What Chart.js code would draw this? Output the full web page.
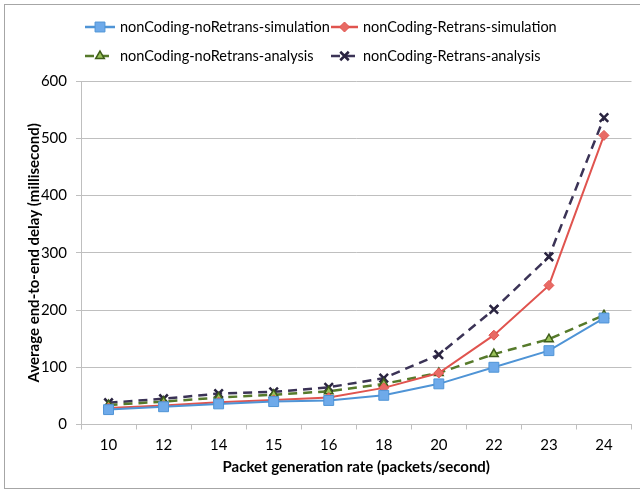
<!DOCTYPE html>
<html>
<head>
<meta charset="utf-8">
<script src="https://cdn.jsdelivr.net/npm/chart.js@4.4.1/dist/chart.umd.min.js"></script>
<style>
  html, body { margin: 0; padding: 0; background: #fff; }
  #wrap { width: 640px; height: 491px; position: relative; }
</style>
</head>
<body>
<div id="wrap"><canvas id="myChart" width="640" height="491"></canvas></div>
<script>
const labels = ["10", "12", "14", "15", "16", "18", "20", "22", "23", "24"];

const noRetransSim = [26, 31, 36, 40, 42, 51, 71, 100, 129, 186];
const retransSim = [29, 33, 39, 43, 47, 64, 90, 156, 243, 505];
const noRetransAna = [34, 40, 47, 52, 58, 71, 90, 123, 149, 191];
const retransAna = [38, 45, 54, 57, 65, 81, 122, 201, 293, 536];

const names = [
  "nonCoding-noRetrans-simulation",
  "nonCoding-Retrans-simulation",
  "nonCoding-noRetrans-analysis",
  "nonCoding-Retrans-analysis",
];

const FONT = "Lato, 'Open Sans', sans-serif";

//frame around the whole picture
const framePlugin = {
  id: "frame",
  beforeDraw(chart) {
    const c = chart.ctx;
    c.save();
    c.strokeStyle = "#a6a6a6";
    c.lineWidth = 1;
    c.strokeRect(4.5, 4.5, 700, 484);
    c.restore();
  },
};

//two column legend at the top
const legendPlugin = {
  id: "gridLegend",
  afterDraw(chart) {
    const c = chart.ctx;
    const cols = [85, 331];
    const textX = [120, 363];
    const rows = [27, 56];
    chart.data.datasets.forEach((ds, i) => {
      const col = i % 2;
      const x = cols[col];
      const y = rows[Math.floor(i / 2)];
      const len = textX[col] - x - 5;
      c.save();
      c.strokeStyle = ds.borderColor;
      c.lineWidth = 2.5;
      c.setLineDash(ds.borderDash || []);
      c.beginPath();
      c.moveTo(x, y);
      c.lineTo(x + len, y);
      c.stroke();
      c.setLineDash([]);
      c.fillStyle = ds.pointBackgroundColor;
      c.strokeStyle = ds.pointBorderColor;
      c.lineWidth = ds.pointBorderWidth;
      Chart.helpers.drawPoint(c, {
        pointStyle: ds.pointStyle,
        radius: ds.pointRadius,
        borderWidth: ds.pointBorderWidth,
        rotation: 0,
      }, x + len / 2, y);
      c.fillStyle = "#000";
      c.font = "14.5px " + FONT;
      c.textBaseline = "middle";
      c.fillText(ds.label, textX[col], y);
      c.restore();
    });
  },
};

const data = {
  labels,
  datasets: [
    {
      label: names[0],
      data: noRetransSim,
      borderColor: "#4f94d6",
      borderWidth: 2,
      pointStyle: "rect",
      pointRadius: 7,
      pointBackgroundColor: "#6eaaea",
      pointBorderColor: "#4f94d6",
      pointBorderWidth: 1,
      order: 1,
    },
    {
      label: names[1],
      data: retransSim,
      borderColor: "#e0544f",
      borderWidth: 2,
      pointStyle: "rectRot",
      pointRadius: 5,
      pointBackgroundColor: "#e86a64",
      pointBorderColor: "#e0544f",
      pointBorderWidth: 1,
      order: 2,
    },
    {
      label: names[2],
      data: noRetransAna,
      borderColor: "#567a2b",
      borderWidth: 2.5,
      borderDash: [9, 6],
      pointStyle: "triangle",
      pointRadius: 5,
      pointBackgroundColor: "#9bc35a",
      pointBorderColor: "#3f5e1a",
      pointBorderWidth: 1.5,
      order: 3,
    },
    {
      label: names[3],
      data: retransAna,
      borderColor: "#3b3356",
      borderWidth: 2.5,
      borderDash: [9, 6],
      pointStyle: "crossRot",
      pointRadius: 6,
      pointBackgroundColor: "#3b3356",
      pointBorderColor: "#2a2440",
      pointBorderWidth: 2.5,
      order: 4,
    },
  ],
};

const config = {
  type: "line",
  data: data,
  plugins: [framePlugin, legendPlugin],
  options: {
    responsive: false,
    animation: false,
    layout: { padding: { top: 81, left: 0, right: 5, bottom: 0 } },
    elements: { line: { tension: 0 } },
    scales: {
      x: {
        offset: true,
        afterFit: (scale) => { scale.height = 66.5; },
        grid: {
          offset: true,
          drawOnChartArea: false,
          drawTicks: true,
          tickLength: 5,
          color: "#bfbfbf",
        },
        border: { color: "#bfbfbf", width: 1 },
        ticks: {
          color: "#000",
          padding: 7,
          font: { family: FONT, size: 15 },
        },
        title: {
          display: true,
          text: "Packet generation rate (packets/second)",
          color: "#000",
          padding: { top: 0, bottom: 15 },
          font: { family: FONT, size: 15, weight: "bold" },
        },
      },
      y: {
        min: 0,
        max: 600,
        afterFit: (scale) => { scale.width = 81; },
        grid: {
          color: "#bfbfbf",
          drawTicks: true,
          tickLength: 5,
        },
        border: { color: "#bfbfbf", width: 1 },
        ticks: {
          stepSize: 100,
          color: "#000",
          padding: 9,
          font: { family: FONT, size: 15 },
        },
        title: {
          display: true,
          text: "Average end-to-end delay (millisecond)",
          color: "#000",
          padding: { top: 25, bottom: 0 },
          font: { family: FONT, size: 15, weight: "bold" },
        },
      },
    },
    plugins: {
      legend: { display: false },
      tooltip: { enabled: false },
    },
  },
};

const myChart = new Chart(document.querySelector("#myChart").getContext("2d"), config);
</script>
</body>
</html>
